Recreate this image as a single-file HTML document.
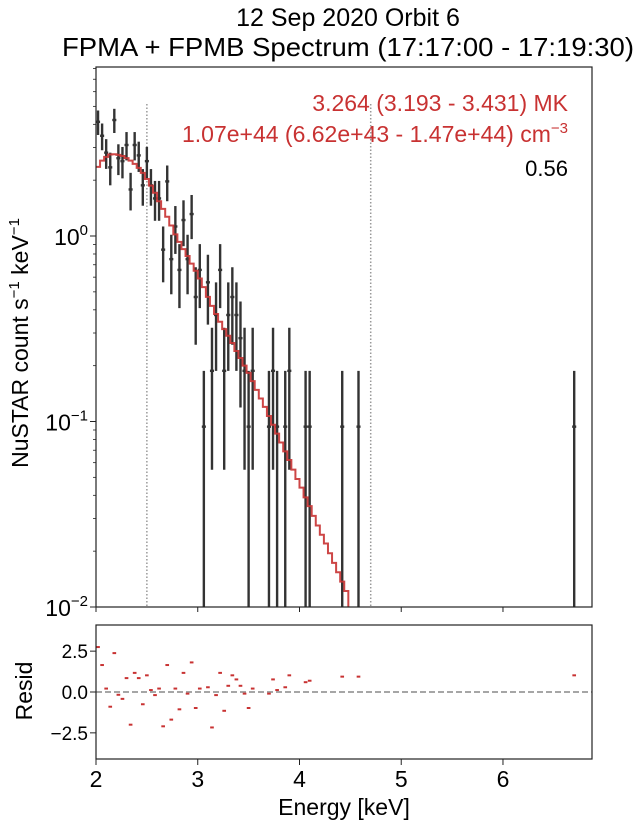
<!DOCTYPE html>
<html><head><meta charset="utf-8"><style>
html,body{margin:0;padding:0;background:#fff}
svg{display:block;font-family:"Liberation Sans",sans-serif}
</style></head><body>
<svg id="chart" width="641" height="827" viewBox="0 0 641 827" xmlns="http://www.w3.org/2000/svg">
<text x="348" y="26" font-size="25" text-anchor="middle" fill="#000">12 Sep 2020 Orbit 6</text>
<text x="62" y="56" font-size="26" textLength="572" lengthAdjust="spacingAndGlyphs" fill="#000">FPMA + FPMB Spectrum (17:17:00 - 17:19:30)</text>
<text x="568" y="111" font-size="23" text-anchor="end" fill="#c83232">3.264 (3.193 - 3.431) MK</text>
<text x="568" y="142" font-size="23" text-anchor="end" fill="#c83232">1.07e+44 (6.62e+43 - 1.47e+44) cm<tspan dy="-9" font-size="15">−3</tspan></text>
<text x="568" y="176" font-size="22" text-anchor="end" fill="#000">0.56</text>
<text transform="translate(28,343) rotate(-90)" font-size="23" text-anchor="middle" fill="#000">NuSTAR count s<tspan dy="-9" font-size="15">−1</tspan><tspan dy="9"> keV</tspan><tspan dy="-9" font-size="15">−1</tspan></text>
<text transform="translate(32,691) rotate(-90)" font-size="23" text-anchor="middle" fill="#000">Resid</text>
<text x="344" y="815" font-size="23" text-anchor="middle" fill="#000">Energy [keV]</text>
<g id="main"></g>
<g id="res"></g>
</svg>
<script>
// data
const energies = [2.02,2.06,2.10,2.14,2.18,2.22,2.26,2.30,2.34,2.38,2.42,2.46,2.50,2.54,2.58,2.62,2.66,2.70,2.74,2.78,2.82,2.86,2.90,2.94,2.98,3.02,3.06,3.10,3.14,3.18,3.22,3.26,3.30,3.34,3.38,3.42,3.46,3.50,3.54,3.70,3.74,3.78,3.86,3.90,4.06,4.10,4.42,4.58,6.70];
const counts = [44,37,30,25,45,28,27,33,19,33,29,20,27,20,17,17,9,21,8,12,7,13,8,14,5,7,1,6,2,4,7,2,4,5,4,3,2,1,2,1,2,1,1,2,1,1,1,1,1];
const countUnit = 0.0938;
const modelEdges = [2.00,2.04,2.08,2.12,2.16,2.20,2.24,2.28,2.32,2.36,2.40,2.44,2.48,2.52,2.56,2.60,2.64,2.68,2.72,2.76,2.80,2.84,2.88,2.92,2.96,3.00,3.04,3.08,3.12,3.16,3.20,3.24,3.28,3.32,3.36,3.40,3.44,3.48,3.52,3.56,3.60,3.64,3.68,3.72,3.76,3.80,3.84,3.88,3.92,3.96,4.00,4.04,4.08,4.12,4.16,4.20,4.24,4.28,4.32,4.36,4.40,4.44];
const modelValues = [2.36,2.55,2.67,2.75,2.76,2.74,2.70,2.63,2.55,2.45,2.33,2.19,2.03,1.87,1.71,1.54,1.40,1.27,1.14,1.02,0.93,0.85,0.78,0.71,0.65,0.59,0.53,0.47,0.42,0.38,0.345,0.315,0.29,0.265,0.24,0.22,0.20,0.183,0.165,0.148,0.133,0.12,0.107,0.096,0.086,0.077,0.069,0.062,0.055,0.049,0.044,0.039,0.035,0.031,0.0275,0.0245,0.022,0.0195,0.0173,0.0154,0.0137,0.0122];
const residEnergies = [2.02,2.06,2.10,2.14,2.18,2.22,2.26,2.30,2.34,2.38,2.42,2.46,2.50,2.54,2.58,2.62,2.66,2.70,2.74,2.78,2.82,2.86,2.90,2.94,2.98,3.02,3.10,3.14,3.18,3.22,3.26,3.30,3.34,3.38,3.42,3.46,3.50,3.54,3.70,3.74,3.78,3.86,3.90,4.06,4.10,4.42,4.58,6.70];
const residValues = [2.75,1.65,0.21,-0.9,2.38,-0.17,-0.42,0.85,-2.0,1.17,0.85,-0.75,1.02,0.12,-0.19,0.21,-2.1,1.65,-1.69,0.21,-1.06,1.17,-0.1,1.81,-0.98,0.21,0.29,-2.17,-0.19,1.17,-1.15,0.38,1.02,0.77,0.38,-0.1,-0.98,0.21,-0.1,0.77,0.12,0.29,1.02,0.6,0.69,0.94,0.94,1.02];
const xTicks = [2,3,4,5,6];
const yMajorTicks = [-2,-1,0];
const resTicks = [2.5,0,-2.5];
const resTickLabels = ["2.5","0.0","−2.5"];

const NS="http://www.w3.org/2000/svg";
const L=96,R=592,MT=67,MB=607,RT=625,RB=759;
const XMIN=2,XMAX=6.875,LMIN=-2,LMAX=Math.log10(8.15),RMIN=-4.1,RMAX=4.1;
const xs=e=>L+(e-XMIN)/(XMAX-XMIN)*(R-L);
const ys=v=>{const l=Math.log10(Math.max(v,1e-9));const c=Math.max(LMIN,l);return MB-(c-LMIN)/(LMAX-LMIN)*(MB-MT);};
const yr=v=>RB-(v-RMIN)/(RMAX-RMIN)*(RB-RT);
function mk(tag,attrs,parent){const el=document.createElementNS(NS,tag);for(const k in attrs)el.setAttribute(k,attrs[k]);parent.appendChild(el);return el;}
const main=document.getElementById('main'),res=document.getElementById('res');

[2.5,4.7].forEach(e=>{const l=mk('line',{x1:xs(e),x2:xs(e),y1:104,y2:MB,stroke:'#999','stroke-width':1.5,'stroke-dasharray':'1.5,2'},main);

});

energies.forEach((e,i)=>{const n=counts[i],v=n*countUnit,err=Math.sqrt(n)*countUnit;
const g=mk('g',{stroke:'#333','stroke-width':2.4},main);


mk('line',{x1:xs(e),x2:xs(e),y1:ys(v+err),y2:ys(v-err)},g);
mk('line',{x1:xs(e-0.02),x2:xs(e+0.02),y1:ys(v),y2:ys(v)},g);});

let d='';modelEdges.forEach((e,i)=>{const y=ys(modelValues[i]);d+=(i?'L':'M')+xs(e)+','+y+'L'+xs(e+0.04)+','+y;});
d+='L'+xs(modelEdges[modelEdges.length-1]+0.04)+','+MB;
const mp=mk('path',{d:d,fill:'none',stroke:'#c83232','stroke-width':2,opacity:0.9},main);



const mb=mk('rect',{x:L,y:MT,width:R-L,height:MB-MT,fill:'none',stroke:'#222','stroke-width':1.2},main);


yMajorTicks.forEach(p=>{const y=ys(Math.pow(10,p));mk('line',{x1:L-6,x2:L,y1:y,y2:y,stroke:'#222','stroke-width':1},main);
const t=mk('text',{x:L-8,y:y+9,'font-size':23,'text-anchor':'end',fill:'#000'},main);


t.innerHTML='10<tspan dy="-10" font-size="15">'+(p<0?'−'+(-p):p)+'</tspan>';
for(let m=2;m<10;m++){const yy=ys(m*Math.pow(10,p));if(yy>MT)mk('line',{x1:L-3,x2:L,y1:yy,y2:yy,stroke:'#222','stroke-width':0.8},main);}});
xTicks.forEach(t=>{mk('line',{x1:xs(t),x2:xs(t),y1:MB,y2:MB+5,stroke:'#222','stroke-width':1},main);});

const rl=mk('line',{x1:L,x2:R,y1:yr(0),y2:yr(0),stroke:'#999','stroke-width':1.8,'stroke-dasharray':'6,3'},res);


residEnergies.forEach((e,i)=>{const v=residValues[i];if(v<RMIN||v>RMAX)return;
const l=mk('line',{x1:xs(e-0.018),x2:xs(e+0.018),y1:yr(v),y2:yr(v),stroke:'#c83232','stroke-width':2},res);

});
const rb=mk('rect',{x:L,y:RT,width:R-L,height:RB-RT,fill:'none',stroke:'#222','stroke-width':1.2},res);


resTicks.forEach((v,i)=>{const y=yr(v);mk('line',{x1:L-6,x2:L,y1:y,y2:y,stroke:'#222','stroke-width':1},res);
const t=mk('text',{x:L-8,y:y+7,'font-size':19,'text-anchor':'end',fill:'#000'},res);


t.textContent=resTickLabels[i];});
xTicks.forEach(v=>{mk('line',{x1:xs(v),x2:xs(v),y1:RB,y2:RB+6,stroke:'#222','stroke-width':1},res);
const t=mk('text',{x:xs(v),y:RB+28,'font-size':23,'text-anchor':'middle',fill:'#000'},res);


t.textContent=v;});
</script>
</body></html>
